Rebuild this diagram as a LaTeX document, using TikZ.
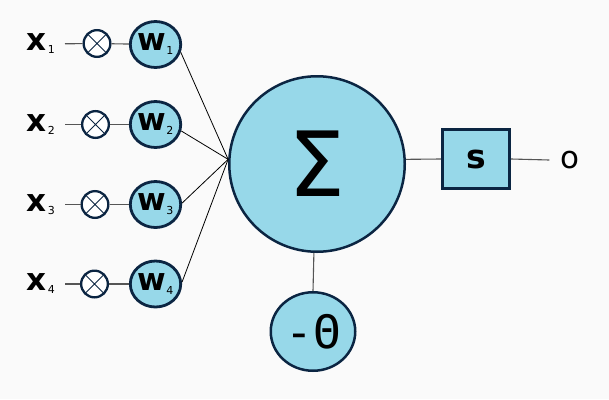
\documentclass[tikz,border=0pt]{standalone}
\usepackage{fontspec}
\setmainfont{DejaVu Sans}
\newfontfamily\thetafont{DejaVu Sans Mono}
\usetikzlibrary{shapes.geometric}
\definecolor{bgc}{HTML}{FAFAFA}
\definecolor{fillc}{HTML}{97D8E9}
\definecolor{edgec}{HTML}{0B2542}
\definecolor{linec}{HTML}{555555}
\newcommand{\xlab}[1]{{\bfseries\fontsize{31}{31}\selectfont x}\hspace{1pt}\raisebox{-3pt}{\fontsize{11}{11}\selectfont #1}}
\newcommand{\wlab}[1]{{\bfseries\fontsize{31}{31}\selectfont w}\raisebox{-4pt}{\fontsize{11}{11}\selectfont #1}\hspace{5pt}}
\begin{document}
\begin{tikzpicture}[x=1pt,y=-1pt,
  xlabel/.style={inner xsep=10pt, inner ysep=0pt, anchor=east},
  crossnode/.style={circle, draw=edgec, line width=2.3pt, fill=white, minimum size=26.7pt, inner sep=0pt,
    path picture={\draw[edgec, line width=0.8pt]
      (path picture bounding box.south west) -- (path picture bounding box.north east)
      (path picture bounding box.north west) -- (path picture bounding box.south east);}},
  wnode/.style={ellipse, draw=edgec, line width=2.8pt, fill=fillc, minimum width=50pt, minimum height=46pt, inner sep=0pt},
  sumnode/.style={circle, draw=edgec, line width=2.5pt, fill=fillc, minimum size=175.5pt, inner sep=0pt, font=\fontsize{90}{90}\selectfont},
  boxnode/.style={rectangle, draw=edgec, line width=2.8pt, fill=fillc, minimum width=67.5pt, minimum height=59.5pt, inner sep=0pt, font=\bfseries\fontsize{33}{33}\selectfont},
  thetanode/.style={ellipse, draw=edgec, line width=2.5pt, fill=fillc, minimum width=84.5pt, minimum height=78.5pt, inner sep=0pt, font=\thetafont\fontsize{46}{46}\selectfont},
  outnode/.style={inner xsep=11pt, inner ysep=0pt, font=\fontsize{31}{31}\selectfont},
  conn/.style={draw=linec, line width=1.1pt},
  thinline/.style={draw=black, line width=0.8pt}
]
\fill[bgc] (0,0) rectangle (609,399);
\useasboundingbox (0,0) rectangle (609,399);

% inputs
\node[xlabel] (x1) at (65,44) {\xlab{1}};
\node[xlabel] (x2) at (65,124.5) {\xlab{2}};
\node[xlabel] (x3) at (65,204.5) {\xlab{3}};
\node[xlabel] (x4) at (65,284) {\xlab{4}};

\node[crossnode] (c1) at (97,43.5) {};
\node[crossnode] (c2) at (95.5,124.5) {};
\node[crossnode] (c3) at (95,204.5) {};
\node[crossnode] (c4) at (94.5,284) {};

\node[wnode] (w1) at (155.5,44.5) {\wlab{1}};
\node[wnode] (w2) at (155.5,124.5) {\wlab{2}};
\node[wnode] (w3) at (155.5,204.5) {\wlab{3}};
\node[wnode] (w4) at (155.5,284) {\wlab{4}};

\node[sumnode] (sum) at (317,164) {Σ};
\node[boxnode] (act) at (476,159) {s};
\node[outnode] (out) at (570,160) {o};
\node[thetanode] (theta) at (313,331.5) {-Θ};

% connectors
\foreach \i in {1,2,3,4}{
  \draw[conn] (x\i) -- (c\i);
  \draw[conn] (c\i) -- (w\i);
}
\draw[thinline] (w1.-17) -- (sum.177.5);
\draw[thinline] (w2.-14) -- (sum.177.5);
\draw[thinline] (w3.3) -- (sum.177.5);
\draw[thinline] (w4.4) -- (sum.177.5);
\draw[conn] (sum.3) -- (act.west);
\draw[conn] (act.east) -- (out.west);
\draw[conn] (sum.268) -- (theta.north);
\end{tikzpicture}
\end{document}
